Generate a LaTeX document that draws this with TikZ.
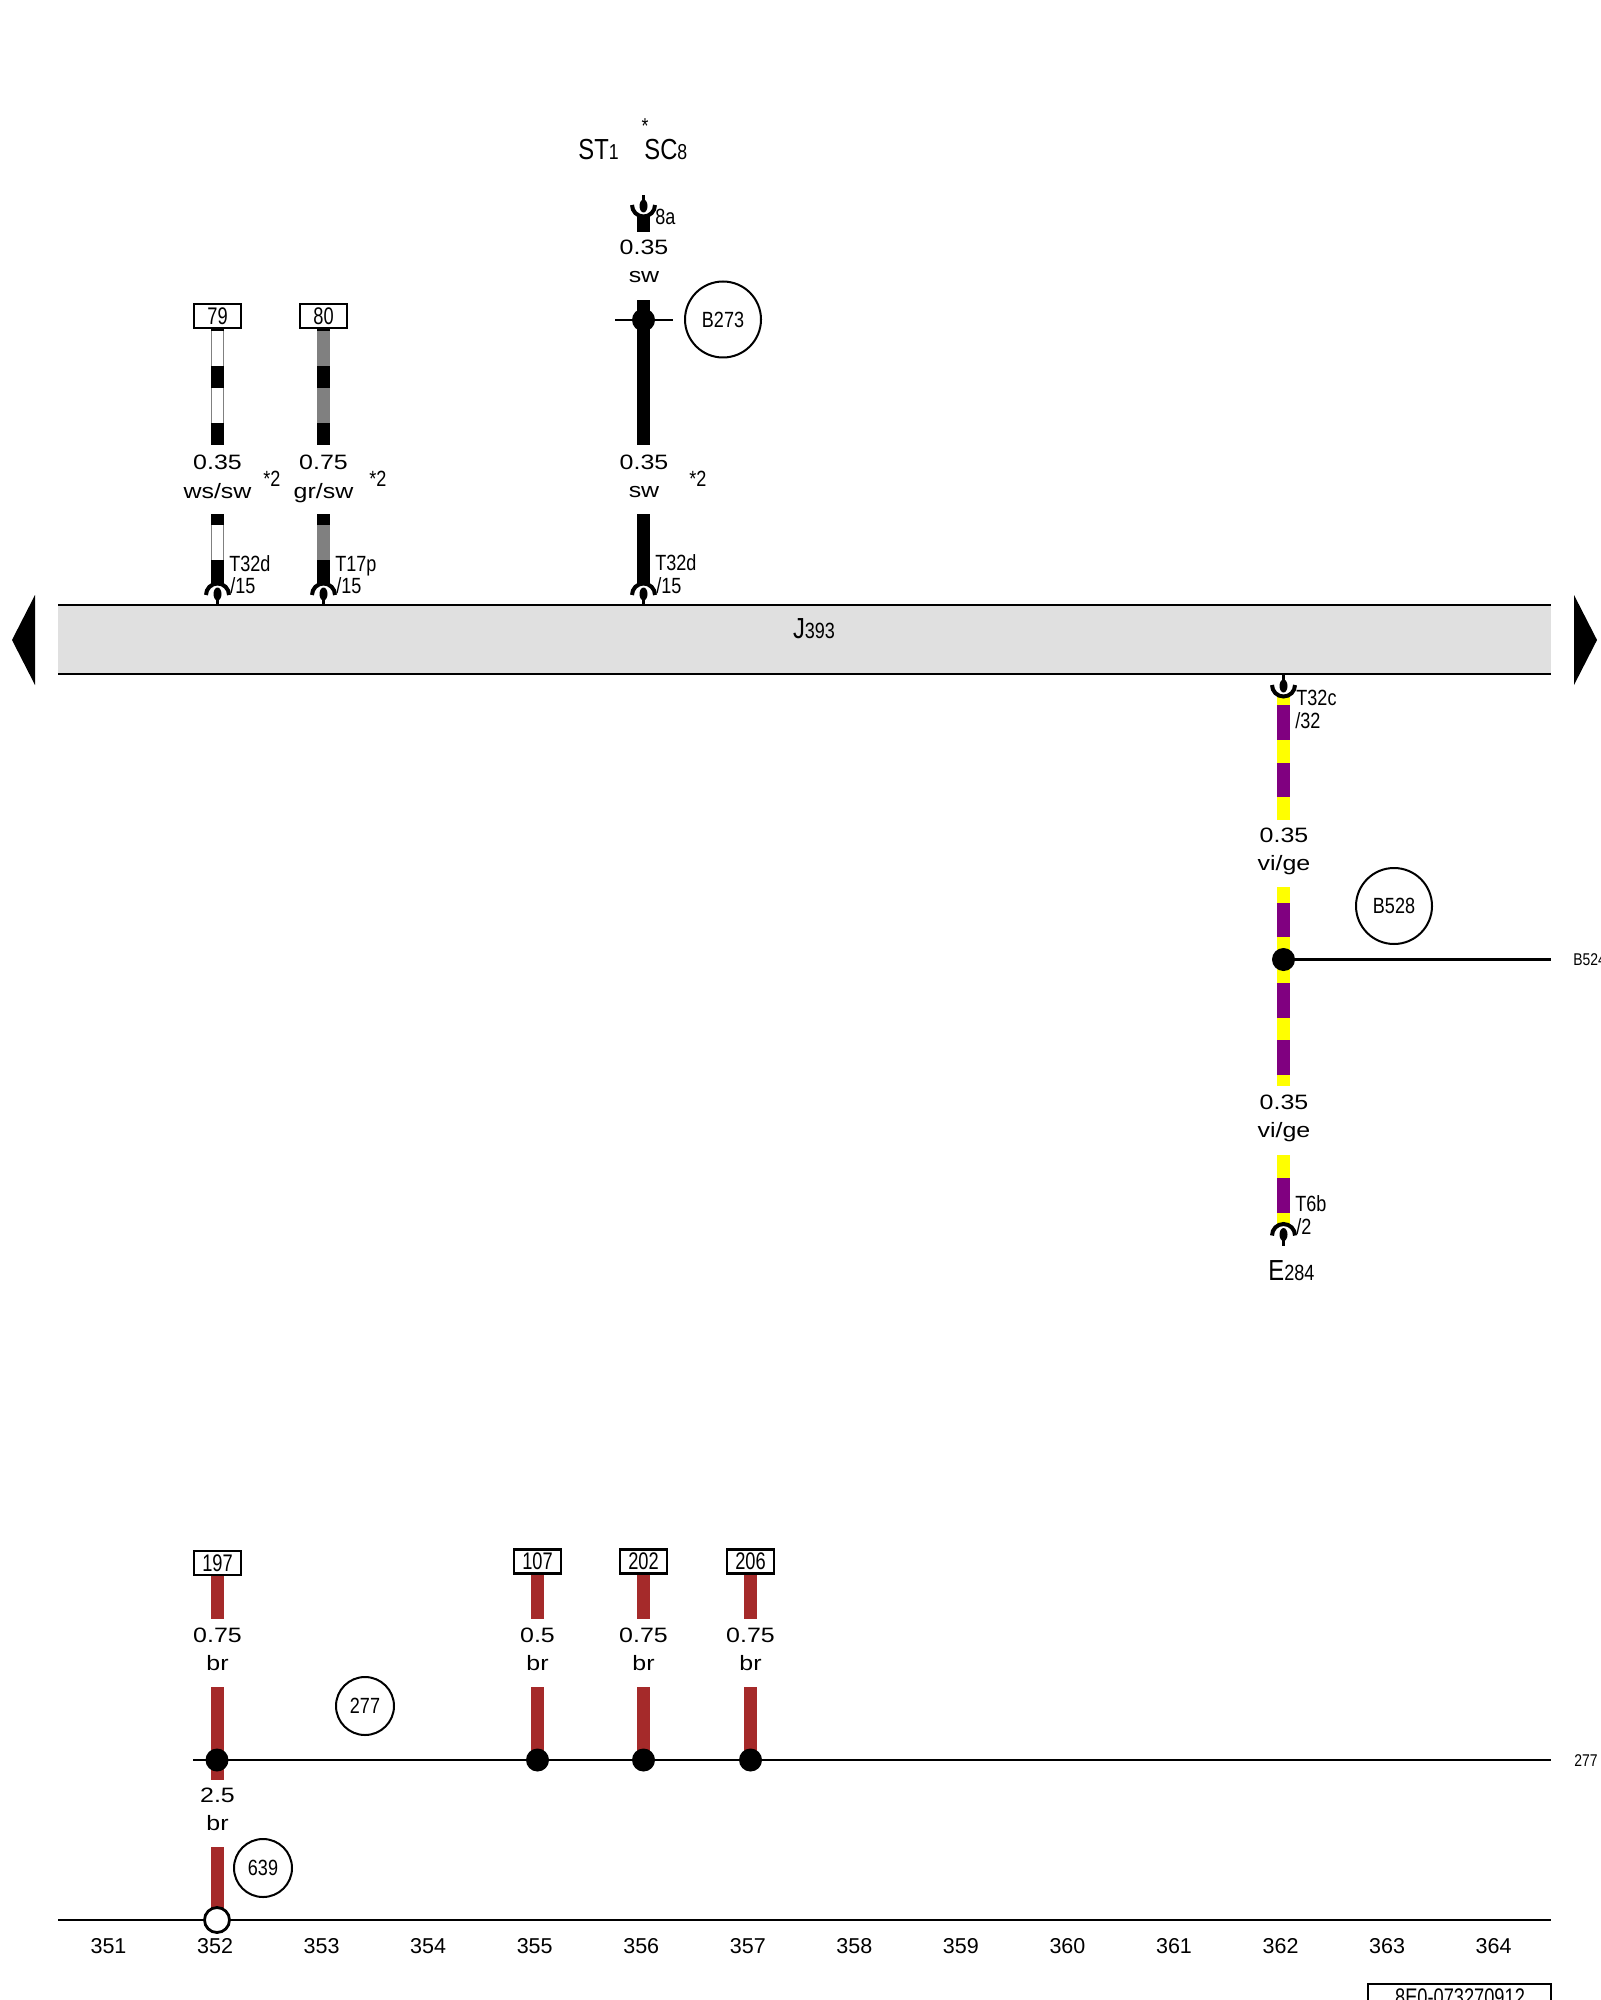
\documentclass[tikz,border=0pt]{standalone}
\usepackage{fontspec}
\setmainfont{Liberation Sans}
\newfontfamily\labfam[FakeStretch=1.2]{Liberation Sans}
\newfontfamily\condfam[FakeStretch=0.82]{Liberation Sans}
\newfontfamily\boxfam[FakeStretch=0.76]{Liberation Sans}
\newcommand\rlabf{\labfam\fontsize{10.4}{12}\selectfont}
\newcommand\rcondf{\condfam\fontsize{11}{13}\selectfont}
\newcommand\rboxf{\boxfam\fontsize{12}{14}\selectfont}
\newcommand\rbigf{\condfam\fontsize{14.5}{16}\selectfont}
\newcommand\rsubf{\condfam\fontsize{10.8}{12}\selectfont}
\newcommand\redgef{\condfam\fontsize{8.5}{10}\selectfont}
\definecolor{wirebr}{HTML}{A52A2A}
\definecolor{wirevi}{HTML}{800080}
\definecolor{wirege}{HTML}{FFFF00}
\definecolor{wiregr}{HTML}{808080}
\definecolor{bandgr}{HTML}{E0E0E0}
\tikzset{
  labeltext/.style={anchor=base,inner sep=0pt,font=\rlabf},
  condtext/.style={anchor=base west,inner sep=0pt,font=\rcondf},
  ticktext/.style={anchor=base,inner sep=0pt,font=\fontsize{10.75}{13}\selectfont},
  refbox/.style={draw,line width=1.1pt,fill=white,minimum width=23.5pt,minimum height=12pt,inner sep=0pt,font=\rboxf},
  refcircle/.style={draw,circle,line width=1pt,fill=white,inner sep=0pt,font=\rcondf},
  dotnode/.style={circle,fill=black,minimum size=11.5pt,inner sep=0pt},
  opendot/.style={circle,draw,line width=1.4pt,fill=white,minimum size=12.5pt,inner sep=0pt},
  thinline/.style={line width=1.05pt},
  x=0.5pt,y=-0.5pt
}
\newcommand\wseg[4]{\fill[#4] ({#1-6.1},#2) rectangle ({#1+6.1},#3);}
\newcommand\wlab[5]{%
  \node[labeltext] (#1a) at (#2,#3) {#4};
  \node[labeltext] (#1b) at (#2,{#3+28}) {#5};}
\newcommand\plugdown[2]{%
  \draw[line width=2pt] ({#1-11.5},{#2+1}) arc[start angle=180,end angle=360,radius=11.5];
  \fill (#1,#2) ellipse[x radius=4,y radius=6.5];
  \draw[line width=1.2pt] (#1,#2) -- (#1,{#2+11});}
\newcommand\plugup[2]{%
  \draw[line width=2pt] ({#1-11.5},{#2-1}) arc[start angle=180,end angle=0,radius=11.5];
  \fill (#1,#2) ellipse[x radius=4,y radius=6.5];
  \draw[line width=1.2pt] (#1,#2) -- (#1,{#2-11});}
\begin{document}
\begin{tikzpicture}
\path[use as bounding box,clip] (0,0) rectangle (1600,2000);
\fill[white] (0,0) rectangle (1600,2000);

% band
\fill[bandgr] (58,605) rectangle (1551,674);
\coordinate (bandTL) at (58,605);
\coordinate (bandTR) at (1551,605);
\coordinate (bandBL) at (58,674);
\coordinate (bandBR) at (1551,674);
\draw[thinline] (bandTL) -- (bandTR);
\draw[thinline] (bandBL) -- (bandBR);
\node[anchor=base,inner sep=0pt,font=\rbigf] (j393) at (814,638) {J{\rcondf 393}};
\fill (12,640) -- (35,595) -- (35,685) -- cycle;
\fill (1597,640) -- (1574,595) -- (1574,685) -- cycle;

% wire 79
\fill[white] (211.4,331) rectangle (223.6,423);
\draw[wiregr,line width=0.4pt] (211.4,331) -- (211.4,423) (223.6,331) -- (223.6,423);
\wseg{217.5}{328}{331}{black}
\wseg{217.5}{366}{388}{black}
\wseg{217.5}{423}{445}{black}
\node[refbox] (b79) at (217.5,316) {79};
\wlab{l79}{217.5}{470}{0.35}{ws/sw}
\node[condtext] (s79) at (263,487) {*2};
\fill[white] (211.4,525) rectangle (223.6,560);
\draw[wiregr,line width=0.4pt] (211.4,525) -- (211.4,560) (223.6,525) -- (223.6,560);
\wseg{217.5}{514}{525}{black}
\wseg{217.5}{560}{584}{black}
\plugdown{217.5}{594}
\node[condtext] (t79a) at (229,571) {T32d};
\node[condtext] (t79b) at (230,593) {/15};

% wire 80
\wseg{323.5}{328}{445}{wiregr}
\wseg{323.5}{328}{331}{black}
\wseg{323.5}{366}{388}{black}
\wseg{323.5}{423}{445}{black}
\node[refbox] (b80) at (323.5,316) {80};
\wlab{l80}{323.5}{470}{0.75}{gr/sw}
\node[condtext] (s80) at (369,487) {*2};
\wseg{323.5}{514}{560}{wiregr}
\wseg{323.5}{514}{525}{black}
\wseg{323.5}{560}{584}{black}
\plugdown{323.5}{594}
\node[condtext] (t80a) at (335,571) {T17p};
\node[condtext] (t80b) at (336,593) {/15};

% wire B273
\node[anchor=base west,inner sep=0pt,font=\rbigf] (st1) at (578,160) {ST{\rsubf 1}};
\node[anchor=base west,inner sep=0pt,font=\rbigf] (sc8) at (644,160) {SC{\rsubf 8}};
\node[inner sep=0pt,font=\rsubf] (star) at (645,126) {*};
\wseg{643.5}{215}{232}{black}
\plugup{643.5}{206}
\node[condtext] (t8a) at (655,225) {8a};
\wlab{l273a}{644}{255}{0.35}{sw}
\wseg{643.5}{300}{445}{black}
\node[dotnode] (d273) at (643.5,320) {};
\coordinate (h273a) at (615,320);
\coordinate (h273b) at (673,320);
\draw[thinline] (h273a) -- (h273b);
\node[refcircle,minimum size=38pt] (c273) at (723,319.5) {B273};
\wlab{l273b}{644}{469}{0.35}{sw}
\node[condtext] (s273) at (689,487) {*2};
\wseg{643.5}{514}{584}{black}
\plugdown{643.5}{594}
\node[condtext] (t273a) at (655,570) {T32d};
\node[condtext] (t273b) at (656,593) {/15};

% wire E284
\wseg{1283.5}{696}{820}{wirege}
\wseg{1283.5}{705}{740}{wirevi}
\wseg{1283.5}{763}{797}{wirevi}
\plugup{1283.5}{686}
\node[condtext] (t32ca) at (1296,705) {T32c};
\node[condtext] (t32cb) at (1295,728) {/32};
\wlab{l528a}{1284}{842}{0.35}{vi/ge}
\wseg{1283.5}{886.5}{1085.5}{wirege}
\wseg{1283.5}{902.5}{936.5}{wirevi}
\wseg{1283.5}{982.5}{1017.5}{wirevi}
\wseg{1283.5}{1039.5}{1074.5}{wirevi}
\node[dotnode] (d528) at (1283.5,959.5) {};
\coordinate (e528) at (1551,959.5);
\draw[thinline] (d528) -- (e528);
\node[anchor=base west,inner sep=0pt,font=\redgef] (x528) at (1573,965) {B524};
\node[refcircle,minimum size=38pt] (c528) at (1394,906) {B528};
\wlab{l528b}{1284}{1109}{0.35}{vi/ge}
\wseg{1283.5}{1154.5}{1225}{wirege}
\wseg{1283.5}{1177.5}{1212.5}{wirevi}
\plugdown{1283.5}{1234.5}
\node[condtext] (t6ba) at (1295,1211) {T6b};
\node[condtext] (t6bb) at (1296,1234) {/2};
\node[anchor=base west,inner sep=0pt,font=\rbigf] (e284) at (1268,1280) {E{\rcondf 284}};

% lower group
\coordinate (h277a) at (193,1760);
\coordinate (h277b) at (1551,1760);
\draw[thinline] (h277a) -- (h277b);
\coordinate (baseL) at (58,1920);
\coordinate (baseR) at (1551,1920);
\draw[thinline] (baseL) -- (baseR);

\wseg{217.5}{1575}{1619}{wirebr}
\node[refbox] (b197) at (217.5,1563) {197};
\wlab{l197}{217.5}{1642}{0.75}{br}
\wseg{217.5}{1687}{1780}{wirebr}
\node[dotnode] (d197) at (217,1760) {};
\wlab{l639}{217.5}{1802}{2.5}{br}
\wseg{217.5}{1847}{1915}{wirebr}
\node[opendot] (o352) at (217,1920) {};
\node[refcircle,minimum size=29pt] (c277) at (365,1706) {277};
\node[refcircle,minimum size=29pt] (c639) at (263,1868) {639};

\wseg{537.5}{1573}{1619}{wirebr}
\node[refbox] (b107) at (537.5,1561.5) {107};
\wlab{l107}{537.5}{1642}{0.5}{br}
\wseg{537.5}{1687}{1760}{wirebr}
\node[dotnode] (d107) at (537.5,1760) {};

\wseg{643.5}{1573}{1619}{wirebr}
\node[refbox] (b202) at (643.5,1561.5) {202};
\wlab{l202}{643.5}{1642}{0.75}{br}
\wseg{643.5}{1687}{1760}{wirebr}
\node[dotnode] (d202) at (643.5,1760) {};

\wseg{750.5}{1573}{1619}{wirebr}
\node[refbox] (b206) at (750.5,1561.5) {206};
\wlab{l206}{750.5}{1642}{0.75}{br}
\wseg{750.5}{1687}{1760}{wirebr}
\node[dotnode] (d206) at (750.5,1760) {};

\node[anchor=base west,inner sep=0pt,font=\redgef] (x277) at (1574,1766) {277};

% ticks
\foreach \n [count=\i from 0] in {351,...,364}
  \node[ticktext] (tick\n) at ({108.5+\i*106.55},1953) {\n};

% footer
\draw[thinline,fill=white] (1368,2010) rectangle (1551,1984);
\node[anchor=base,inner sep=0pt,font=\rboxf] (foot) at (1460,2005) {8E0-073270912};
\end{tikzpicture}
\end{document}
